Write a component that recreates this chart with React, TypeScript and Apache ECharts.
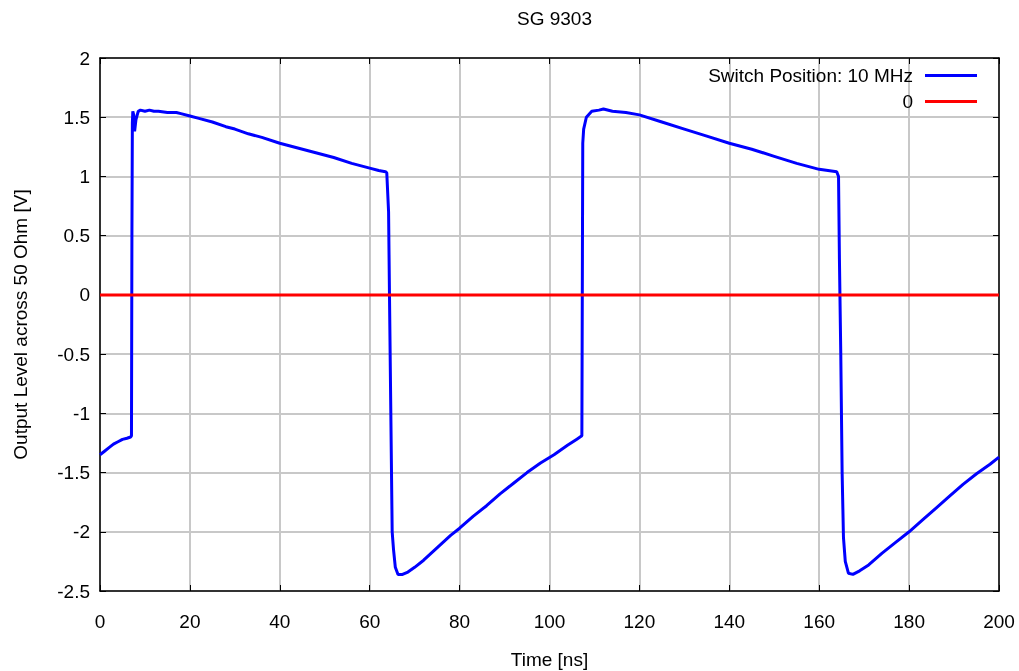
import React, { useEffect, useRef } from "react";
import * as echarts from "echarts";

const titleText = "SG 9303";
const xName = "Time [ns]";
const yName = "Output Level across 50 Ohm [V]";
const seriesNames = ["Switch Position: 10 MHz", "0"];

const blueT = [
  0, 1, 2, 3, 4, 5, 6, 6.8, 7.0, 7.1, 7.2, 7.3, 7.5, 7.7, 8.0, 8.5, 9, 10, 11, 12, 13, 15, 17, 18, 20, 22, 25, 28, 30, 33, 36, 40, 44, 48, 52, 56, 60, 62, 63.5, 63.8, 64.2, 64.4, 64.7, 65.0, 65.3, 65.7, 66.3, 67.3, 68.5, 70, 72, 74, 76, 78, 80, 83, 86, 89, 92, 95, 98, 101, 104, 106, 107.2,
  107.4, 107.6, 108.2, 109.4, 111, 112, 114, 117, 120, 125, 130, 135, 140, 145, 150, 155, 160, 163.9, 164.3, 164.5, 164.8, 165.1, 165.4, 165.8, 166.5, 167.5, 169, 171, 174, 177, 180, 183, 186, 189, 192, 195, 198, 200,
];
const blueV = [
  -1.35, -1.32, -1.29, -1.26, -1.24, -1.22, -1.21, -1.2, -1.19, 0.5, 1.45, 1.55, 1.52, 1.38, 1.48, 1.55, 1.56, 1.55, 1.56, 1.55, 1.55, 1.54, 1.54, 1.53, 1.51, 1.49, 1.46, 1.42, 1.4, 1.36, 1.33, 1.28, 1.24, 1.2, 1.16, 1.11, 1.07, 1.05, 1.04, 1.03, 0.7, 0.0, -1.0, -2.0, -2.15, -2.3, -2.36, -2.36, -2.34, -2.3, -2.24, -2.17, -2.1, -2.03, -1.97, -1.87, -1.78, -1.68, -1.59, -1.5, -1.42, -1.35, -1.27, -1.22, -1.19,
  1.28, 1.4, 1.5, 1.55, 1.56, 1.57, 1.55, 1.54, 1.52, 1.46, 1.4, 1.34, 1.28, 1.23, 1.17, 1.11, 1.06, 1.04, 1.0, 0.3, -0.5, -1.5, -2.05, -2.25, -2.35, -2.36, -2.33, -2.28, -2.18, -2.09, -2.0, -1.9, -1.8, -1.7, -1.6, -1.51, -1.43, -1.37,
];
const redT = [0, 200];
const redV = [0, 0];

const FONT = "'Liberation Sans', Arial, sans-serif";
const FS = 19;

export default function App() {
  const ref = useRef<HTMLDivElement>(null);
  useEffect(() => {
    if (!ref.current) return;
    const chart = echarts.init(ref.current, undefined, { renderer: "svg" });
    const blue = blueT.map((t, i) => [t, blueV[i]]);
    const red = redT.map((t, i) => [t, redV[i]]);
    const gridLine = { show: true, lineStyle: { color: "#c8c8c8", width: 2, type: "solid" } };
    const axisLine = { show: true, onZero: false, lineStyle: { color: "#000", width: 1.5 } };
    const tick = { show: true, inside: true, length: 6, lineStyle: { color: "#000", width: 1 } };
    const legendBase = {
      right: 42,
      padding: 0,
      align: "right",
      icon: "rect",
      itemWidth: 52,
      itemHeight: 3,
      itemGap: 0,
      textStyle: { fontFamily: FONT, fontSize: FS, color: "#000", padding: [0, 7, 0, 0] },
    };
    chart.setOption({
      animation: false,
      textStyle: { fontFamily: FONT, color: "#000" },
      title: {
        text: titleText,
        left: 549.5,
        top: 4,
        textAlign: "center",
        textStyle: { fontFamily: FONT, fontSize: FS, fontWeight: "normal", color: "#000" },
      },
      grid: { left: 100, right: 20, top: 58, bottom: 80, show: false, containLabel: false, outerBoundsMode: "none" },
      legend: [
        { ...legendBase, data: [seriesNames[0]], top: 66 },
        { ...legendBase, data: [seriesNames[1]], top: 92 },
      ],
      xAxis: [
        {
          type: "value",
          min: 0,
          max: 200,
          interval: 20,
          name: xName,
          nameLocation: "middle",
          nameGap: 59,
          nameTextStyle: { fontFamily: FONT, fontSize: FS, color: "#000" },
          axisLine,
          axisTick: tick,
          axisLabel: { fontFamily: FONT, fontSize: FS, color: "#000", margin: 21 },
          splitLine: gridLine,
        },
        {
          type: "value",
          position: "top",
          min: 0,
          max: 200,
          interval: 20,
          axisLine,
          axisTick: tick,
          axisLabel: { show: false },
          splitLine: { show: false },
        },
      ],
      yAxis: [
        {
          type: "value",
          min: -2.5,
          max: 2,
          interval: 0.5,
          name: yName,
          nameLocation: "middle",
          nameGap: 70,
          nameTextStyle: { fontFamily: FONT, fontSize: FS, color: "#000" },
          axisLine,
          axisTick: tick,
          axisLabel: { fontFamily: FONT, fontSize: FS, color: "#000", margin: 10 },
          splitLine: gridLine,
        },
        {
          type: "value",
          position: "right",
          min: -2.5,
          max: 2,
          interval: 0.5,
          axisLine,
          axisTick: tick,
          axisLabel: { show: false },
          splitLine: { show: false },
        },
      ],
      series: [
        {
          name: seriesNames[0],
          type: "line",
          data: blue,
          symbol: "none",
          lineStyle: { color: "#0000ff", width: 3 },
          itemStyle: { color: "#0000ff" },
        },
        {
          name: seriesNames[1],
          type: "line",
          data: red,
          symbol: "none",
          lineStyle: { color: "#ff0000", width: 3 },
          itemStyle: { color: "#ff0000" },
        },
      ],
    });
    return () => chart.dispose();
  }, []);
  return (
    <div
      ref={ref}
      style={{ position: "fixed", left: 0, top: 0, width: 1019, height: 671 }}
    />
  );
}
